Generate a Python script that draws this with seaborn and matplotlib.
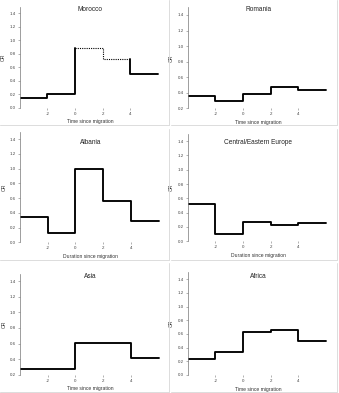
import matplotlib
matplotlib.use("Agg")
import matplotlib.pyplot as plt
import seaborn as sns
import pandas as pd
import numpy as np
from matplotlib.lines import Line2D

sns.set_theme(style="white")
plt.rcParams['font.family'] = ['Liberation Sans', 'DejaVu Sans']

# ---- data ----
titles = ["Morocco", "Romania", "Albania", "Central/Eastern Europe", "Asia", "Africa"]
xlabels = ["Time since migration", "Time since migration",
           "Duration since migration", "Duration since migration",
           "Time since migration", "Time since migration"]
edges = [-4, -2, 0, 2, 4, 6]
xticks = [-2, 0, 2, 4]
morocco = [0.14, 0.20, 0.88, 0.72, 0.50]
romania = [0.36, 0.30, 0.39, 0.47, 0.43]
albania = [0.345, 0.13, 1.00, 0.555, 0.29]
ce_europe = [0.525, 0.10, 0.27, 0.225, 0.25]
asia = [0.277, 0.268, 0.613, 0.613, 0.413]
africa = [0.23, 0.335, 0.635, 0.655, 0.50]
series = [morocco, romania, albania, ce_europe, asia, africa]
dotted = [[False, False, True, True, False]] + [[False] * 5] * 5
ybottoms = [0.0, 0.2, 0.0, 0.0, 0.2, 0.0]

# ---- layout (pixels) ----
W, H = 339, 393
fig = plt.figure(figsize=(W / 100, H / 100), dpi=100)
boxes = [  # left, top, right, bottom of axes in pixels
    (19.5, 6.6, 161, 107.7),
    (187.5, 7.2, 329, 108.3),
    (20, 131.9, 161.5, 242.3),
    (187.5, 133.9, 329, 241.3),
    (20, 273.5, 161.5, 374.7),
    (187.5, 272.4, 329, 375.0),
]
title_y = [9.3, 9.3, 142, 142, 276, 277]

# panel separators (right and bottom edges)
panel_right = [168.5, 337]
panel_bottoms = [125, 260, 392]
panel_tops = [0, 129, 263]
sep_col = '#dcdcdc'
for c, pr in enumerate(panel_right):
    pl = 0 if c == 0 else 170.5
    for r in range(3):
        pb = panel_bottoms[r]
        pt = panel_tops[r]
        fig.add_artist(Line2D([pl / W, pr / W], [1 - pb / H, 1 - pb / H],
                              color=sep_col, lw=0.7, transform=fig.transFigure))
        fig.add_artist(Line2D([pr / W, pr / W], [1 - pt / H, 1 - pb / H],
                              color=sep_col, lw=0.7, transform=fig.transFigure))

txt = '#333333'
for i in range(6):
    l, t, r, b = boxes[i]
    ax = fig.add_axes([l / W, 1 - b / H, (r - l) / W, (b - t) / H])
    vals = series[i]
    dots = dotted[i]
    # build pieces of consecutive same style
    n = len(vals)
    pieces = []
    start = 0
    for k in range(1, n + 1):
        if k == n or dots[k] != dots[start]:
            pieces.append((start, k, dots[start]))
            start = k
    for (s, e, isdot) in pieces:
        xs, ys = [], []
        if s > 0 and not isdot:
            xs.append(edges[s]); ys.append(vals[s - 1])
        for k in range(s, e):
            xs.append(edges[k]); ys.append(vals[k])
        if e < n and not isdot and dots[e]:
            xs.append(edges[e]); ys.append(vals[e])
        else:
            xs.append(edges[e]); ys.append(vals[e - 1])
        df = pd.DataFrame({"x": xs, "y": ys})
        if isdot:
            sns.lineplot(data=df, x="x", y="y", ax=ax, drawstyle="steps-post",
                         estimator=None, sort=False, color='black', lw=0.8,
                         linestyle=(0, (1, 1)))
        else:
            sns.lineplot(data=df, x="x", y="y", ax=ax, drawstyle="steps-post",
                         estimator=None, sort=False, color='black', lw=1.35)
    ax.set_xlim(-4, 6.2)
    yb = ybottoms[i]
    ax.set_ylim(yb, 1.5)
    yt = np.round(np.arange(yb, 1.41, 0.2), 1)
    ax.set_yticks(yt)
    ax.set_yticklabels([f"{v:.1f}" for v in yt])
    ax.set_xticks(xticks)
    ax.set_xticklabels([str(v) for v in xticks])
    for sp in ['top', 'right', 'bottom']:
        ax.spines[sp].set_visible(False)
    ax.spines['left'].set_color('#777777')
    ax.spines['left'].set_linewidth(0.5)
    ax.tick_params(axis='both', labelsize=3.2, length=1.5, width=0.4,
                   pad=1.3, colors='#777777', labelcolor='#444444',
                   left=True, bottom=True)
    ax.set_xlabel(xlabels[i], fontsize=3.6, color=txt, labelpad=2.6)
    ax.set_ylabel("OR", fontsize=3.6, color=txt, labelpad=2.3)
    ax.set_facecolor('none')
    cx = (l + r) / 2
    fig.text(cx / W, 1 - title_y[i] / H, titles[i], ha='center', va='center',
             fontsize=4.7, color='#222222')

fig.savefig("out.png", dpi=100)
